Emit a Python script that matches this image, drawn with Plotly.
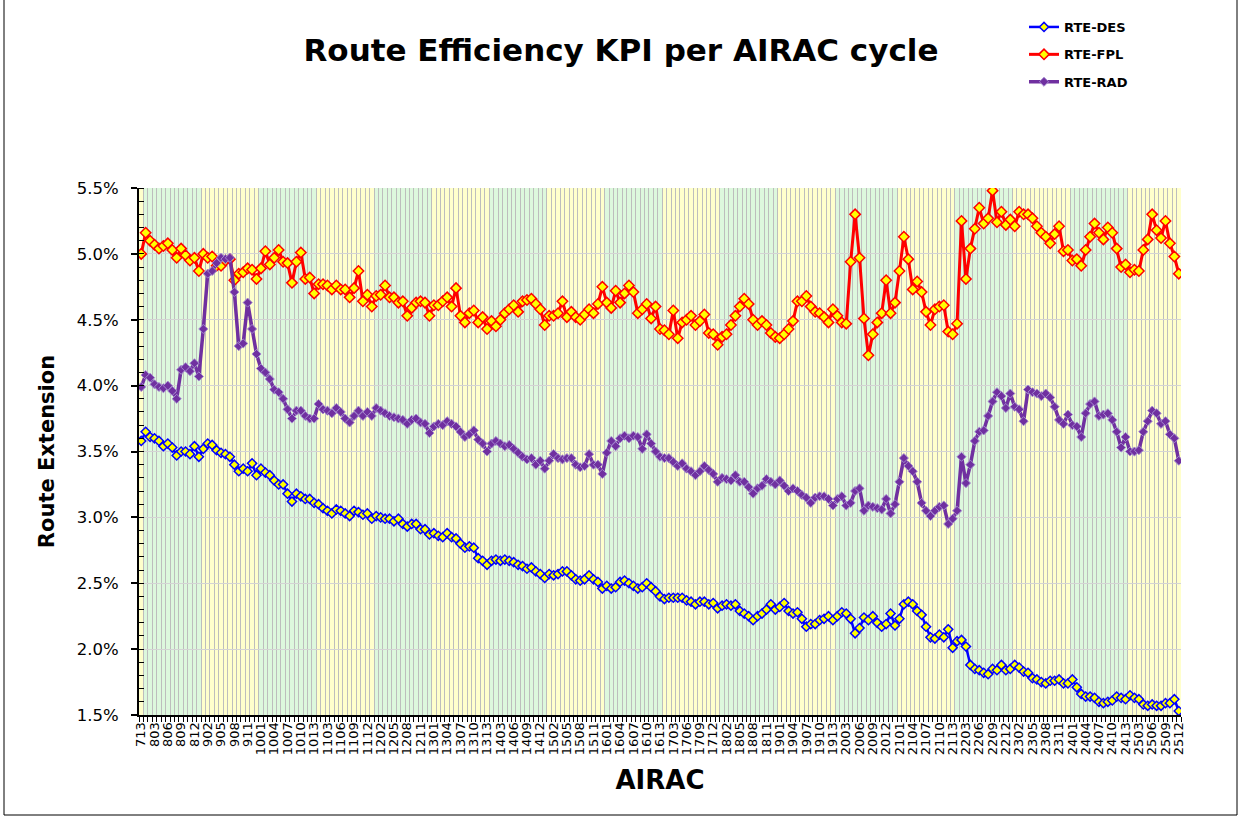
import plotly.graph_objects as go

# ---------------- data ----------------
# AIRAC years: (year, first cycle, last cycle shown)
year_cycles = [(2007, 13, 13)] + [(y, 1, 13) for y in range(2008, 2020)] + [(2020, 1, 14)] + \
              [(y, 1, 13) for y in range(2021, 2025)] + [(2025, 1, 12)]

airac = []
year_span = []
for yr, c0, c1 in year_cycles:
    start = len(airac)
    for c in range(c0, c1 + 1):
        airac.append(f"{yr - 2000}{c:02d}")
    year_span.append((yr, start, len(airac) - 1))

rte_des = [
    3.58, 3.65, 3.61, 3.60, 3.58, 3.54, 3.56, 3.53, 3.47, 3.50,
    3.50, 3.48, 3.54, 3.46, 3.52, 3.56, 3.55, 3.51, 3.49, 3.48,
    3.46, 3.40, 3.35, 3.37, 3.35, 3.41, 3.32, 3.37, 3.34, 3.32,
    3.28, 3.25, 3.25, 3.18, 3.12, 3.18, 3.16, 3.14, 3.14, 3.11,
    3.10, 3.07, 3.05, 3.03, 3.06, 3.05, 3.03, 3.01, 3.05, 3.04,
    3.02, 3.03, 2.99, 3.01, 3.00, 2.99, 2.99, 2.97, 2.99, 2.95,
    2.93, 2.95, 2.95, 2.91, 2.91, 2.87, 2.88, 2.86, 2.85, 2.88,
    2.85, 2.84, 2.80, 2.77, 2.78, 2.77, 2.69, 2.67, 2.64, 2.67,
    2.68, 2.67, 2.68, 2.67, 2.66, 2.64, 2.63, 2.61, 2.62, 2.59,
    2.57, 2.54, 2.57, 2.56, 2.57, 2.59, 2.59, 2.56, 2.53, 2.52,
    2.53, 2.56, 2.53, 2.51, 2.46, 2.48, 2.46, 2.47, 2.51, 2.52,
    2.50, 2.48, 2.46, 2.47, 2.50, 2.47, 2.44, 2.40, 2.38, 2.39,
    2.39, 2.39, 2.39, 2.37, 2.36, 2.34, 2.36, 2.36, 2.34, 2.35,
    2.31, 2.33, 2.34, 2.33, 2.34, 2.29, 2.27, 2.25, 2.22, 2.25,
    2.27, 2.30, 2.34, 2.30, 2.32, 2.35, 2.29, 2.27, 2.28, 2.23,
    2.17, 2.19, 2.19, 2.22, 2.23, 2.25, 2.22, 2.25, 2.28, 2.27,
    2.23, 2.12, 2.16, 2.24, 2.22, 2.25, 2.20, 2.17, 2.19, 2.27,
    2.18, 2.23, 2.34, 2.36, 2.34, 2.29, 2.26, 2.17, 2.09, 2.08,
    2.11, 2.09, 2.15, 2.01, 2.06, 2.07, 2.02, 1.88, 1.85, 1.84,
    1.82, 1.81, 1.85, 1.84, 1.88, 1.84, 1.85, 1.88, 1.86, 1.83,
    1.82, 1.78, 1.77, 1.75, 1.74, 1.76, 1.76, 1.77, 1.74, 1.74,
    1.77, 1.71, 1.66, 1.64, 1.64, 1.63, 1.60, 1.59, 1.60, 1.61,
    1.64, 1.63, 1.62, 1.65, 1.63, 1.62, 1.58, 1.57, 1.58, 1.57,
    1.57, 1.59, 1.59, 1.62, 1.53,
]

rte_fpl = [
    5.00, 5.16, 5.10, 5.07, 5.04, 5.06, 5.08, 5.03, 4.97, 5.04,
    4.99, 4.95, 4.97, 4.87, 5.00, 4.97, 4.98, 4.91, 4.91, 4.95,
    4.96, 4.80, 4.85, 4.86, 4.89, 4.88, 4.81, 4.89, 5.02, 4.92,
    4.97, 5.03, 4.94, 4.93, 4.78, 4.94, 5.01, 4.81, 4.82, 4.70,
    4.77, 4.77, 4.76, 4.73, 4.76, 4.73, 4.73, 4.67, 4.74, 4.87,
    4.64, 4.69, 4.60, 4.68, 4.69, 4.76, 4.67, 4.67, 4.63, 4.64,
    4.53, 4.59, 4.63, 4.64, 4.63, 4.53, 4.61, 4.61, 4.64, 4.67,
    4.60, 4.74, 4.53, 4.48, 4.55, 4.57, 4.48, 4.52, 4.43, 4.49,
    4.45, 4.50, 4.55, 4.58, 4.61, 4.56, 4.64, 4.65, 4.66, 4.62,
    4.58, 4.46, 4.53, 4.53, 4.55, 4.64, 4.52, 4.56, 4.52, 4.50,
    4.54, 4.58, 4.55, 4.62, 4.75, 4.63, 4.59, 4.72, 4.63, 4.70,
    4.76, 4.71, 4.55, 4.58, 4.62, 4.51, 4.60, 4.43, 4.42, 4.39,
    4.57, 4.36, 4.48, 4.50, 4.53, 4.46, 4.49, 4.54, 4.40, 4.39,
    4.31, 4.37, 4.39, 4.46, 4.53, 4.60, 4.66, 4.62, 4.50, 4.46,
    4.49, 4.46, 4.40, 4.37, 4.36, 4.39, 4.43, 4.49, 4.64, 4.64,
    4.68, 4.60, 4.56, 4.55, 4.52, 4.48, 4.58, 4.53, 4.48, 4.47,
    4.94, 5.30, 4.97, 4.51, 4.23, 4.39, 4.48, 4.55, 4.80, 4.55,
    4.63, 4.87, 5.13, 4.96, 4.73, 4.79, 4.71, 4.56, 4.46, 4.58,
    4.60, 4.61, 4.41, 4.39, 4.47, 5.25, 4.81, 5.04, 5.19, 5.35,
    5.23, 5.27, 5.48, 5.24, 5.32, 5.22, 5.26, 5.21, 5.32, 5.30,
    5.30, 5.27, 5.21, 5.16, 5.13, 5.08, 5.15, 5.21, 5.02, 5.03,
    4.95, 4.96, 4.91, 5.03, 5.13, 5.23, 5.16, 5.11, 5.20, 5.16,
    5.04, 4.90, 4.92, 4.86, 4.88, 4.87, 5.03, 5.11, 5.30, 5.18,
    5.12, 5.25, 5.08, 4.98, 4.85,
]

rte_rad = [
    3.99, 4.08, 4.06, 4.01, 3.99, 3.98, 4.00, 3.96, 3.90, 4.12,
    4.14, 4.11, 4.17, 4.07, 4.43, 4.85, 4.87, 4.93, 4.97, 4.96,
    4.97, 4.71, 4.30, 4.32, 4.63, 4.43, 4.24, 4.13, 4.10, 4.05,
    3.97, 3.95, 3.90, 3.82, 3.75, 3.81, 3.81, 3.77, 3.75, 3.75,
    3.86, 3.82, 3.81, 3.79, 3.83, 3.80, 3.75, 3.72, 3.77, 3.81,
    3.77, 3.80, 3.77, 3.83, 3.81, 3.79, 3.77, 3.76, 3.75, 3.74,
    3.71, 3.74, 3.75, 3.72, 3.71, 3.64, 3.69, 3.71, 3.70, 3.73,
    3.71, 3.69, 3.65, 3.61, 3.63, 3.66, 3.59, 3.56, 3.50, 3.56,
    3.58, 3.56, 3.54, 3.55, 3.52, 3.49, 3.46, 3.44, 3.45, 3.40,
    3.43, 3.37, 3.43, 3.48, 3.45, 3.44, 3.45, 3.45, 3.40, 3.38,
    3.39, 3.48, 3.40, 3.40, 3.33, 3.49, 3.58, 3.54, 3.60, 3.62,
    3.60, 3.62, 3.61, 3.52, 3.63, 3.56, 3.50, 3.46, 3.45, 3.45,
    3.42, 3.39, 3.41, 3.37, 3.35, 3.32, 3.35, 3.39, 3.36, 3.33,
    3.27, 3.30, 3.29, 3.28, 3.32, 3.27, 3.27, 3.23, 3.18, 3.22,
    3.24, 3.29, 3.27, 3.25, 3.28, 3.24, 3.20, 3.22, 3.20, 3.17,
    3.15, 3.11, 3.15, 3.16, 3.16, 3.14, 3.09, 3.14, 3.16, 3.09,
    3.11, 3.20, 3.22, 3.05, 3.09, 3.08, 3.07, 3.06, 3.14, 3.03,
    3.10, 3.27, 3.45, 3.39, 3.35, 3.27, 3.11, 3.05, 3.01, 3.05,
    3.08, 3.09, 2.95, 2.99, 3.05, 3.46, 3.26, 3.40, 3.58, 3.65,
    3.66, 3.77, 3.88, 3.95, 3.92, 3.83, 3.94, 3.84, 3.82, 3.73,
    3.97, 3.95, 3.94, 3.92, 3.94, 3.91, 3.84, 3.74, 3.71, 3.78,
    3.70, 3.69, 3.61, 3.79, 3.86, 3.88, 3.77, 3.78, 3.79, 3.74,
    3.65, 3.53, 3.61, 3.50, 3.50, 3.51, 3.65, 3.73, 3.81, 3.79,
    3.71, 3.73, 3.63, 3.60, 3.43,
]

assert len(airac) == len(rte_des) == len(rte_fpl) == len(rte_rad)

# ---------------- figure ----------------
n = len(airac)
xs = list(range(n))
FONT = "DejaVu Sans"

W, H = 1243, 817
L, T = 139, 188
PW, PH = 1042, 527

fig = go.Figure()
fig.add_trace(go.Scatter(
    x=xs, y=rte_des, name="RTE-DES", mode="lines+markers", legendgroup="a",
    line=dict(color="#0000FF", width=2.5),
    marker=dict(symbol="diamond", size=7, color="#FFFF00", line=dict(color="#0000FF", width=1.5)),
))
fig.add_trace(go.Scatter(
    x=xs, y=rte_fpl, name="RTE-FPL", mode="lines+markers", legendgroup="b",
    line=dict(color="#FF0000", width=3),
    marker=dict(symbol="diamond", size=8, color="#FFFF00", line=dict(color="#FF0000", width=1.5)),
))
fig.add_trace(go.Scatter(
    x=xs, y=rte_rad, name="RTE-RAD", mode="lines+markers", legendgroup="c",
    line=dict(color="#7030A0", width=3.5),
    marker=dict(symbol="diamond", size=7, color="#7030A0", line=dict(color="#A58AD0", width=1)),
))

shapes = []
for yr, s, e in year_span:
    shapes.append(dict(
        type="rect", xref="x", yref="paper", x0=s - 0.5, x1=e + 0.5, y0=0, y1=1,
        fillcolor="#FFFFCC" if yr % 2 else "#DDF8DD", line=dict(width=0), layer="below",
    ))
# outer chart border (page coords converted to paper fractions)
shapes.append(dict(type="rect", xref="paper", yref="paper",
                   x0=(4 - L) / PW, x1=(1237 - L) / PW,
                   y0=(T + PH - 815) / PH, y1=(T + PH + 20) / PH,
                   line=dict(color="black", width=1), layer="above"))

fig.update_layout(
    template="none",
    width=W, height=H,
    margin=dict(l=L, r=W - L - PW, t=T, b=H - T - PH, autoexpand=False),
    paper_bgcolor="white", plot_bgcolor="white",
    font=dict(family=FONT, color="black"),
    title=dict(text="Route Efficiency KPI per AIRAC cycle", x=621 / W, xanchor="center",
               y=1 - 50 / H, yanchor="middle", yref="container",
               font=dict(size=31, weight="bold", family=FONT, color="black")),
    showlegend=True,
    legend=dict(x=(1024 - L) / PW, y=(T + PH - 12) / PH, xanchor="left", yanchor="top",
                font=dict(size=13, weight="bold", family=FONT), bgcolor="rgba(0,0,0,0)",
                tracegroupgap=7.5, traceorder="grouped"),
    shapes=shapes,
    xaxis=dict(
        range=[-0.5, n - 0.5], tickmode="array",
        tickvals=xs[::3], ticktext=airac[::3], tickangle=-90,
        tickfont=dict(size=13, family=FONT), ticks="", showgrid=False, zeroline=False,
        showline=True, linecolor="black", linewidth=2, automargin=False,
        minor=dict(tickmode="array", tickvals=[k - 0.5 for k in range(n + 1)],
                   ticks="outside", ticklen=5, tickcolor="black", tickwidth=1,
                   showgrid=True, gridcolor="#BDBDBD", gridwidth=1),
        title=dict(text="AIRAC", font=dict(size=26, weight="bold", family=FONT), standoff=17),
    ),
    yaxis=dict(
        range=[1.5, 5.5], tick0=1.5, dtick=0.5, tickformat=".1f", ticksuffix="%",
        tickfont=dict(size=16.5, family=FONT), ticks="outside", ticklen=6, tickcolor="black",
        tickwidth=1.5, ticklabelstandoff=9,
        showgrid=True, gridcolor="#D4D4D4", gridwidth=1, zeroline=False,
        showline=True, linecolor="black", linewidth=2, automargin=False,
        minor=dict(dtick=0.1, ticks="inside", ticklen=5, tickcolor="black", tickwidth=1, showgrid=False),
        title=dict(text="Route Extension", font=dict(size=21, weight="bold", family=FONT), standoff=16),
    ),
    yaxis2=dict(
        overlaying="y", side="right", anchor="x",
        range=[-0.355, 10.04], tick0=0, dtick=1, showticklabels=False,
        ticks="outside", ticklen=5, tickcolor="black", tickwidth=1.5,
        showgrid=False, zeroline=False, showline=True, linecolor="black", linewidth=2,
        automargin=False,
    ),
)

# remove the default 8px page margin so the figure fills the window exactly
fig.write_html(
    "out.html",
    config={"displayModeBar": False},
    post_script="document.body.style.margin='0';document.body.style.overflow='hidden';",
)
